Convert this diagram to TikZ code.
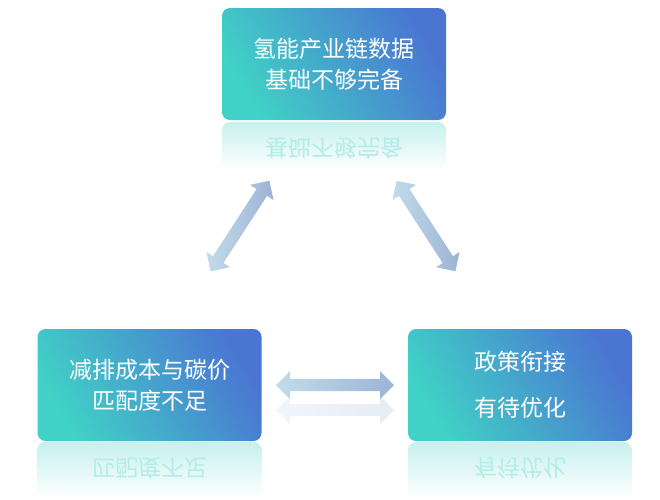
\documentclass[tikz,border=0pt]{standalone}
\usepackage{fontspec}
\setmainfont{Noto Sans CJK SC}
\usetikzlibrary{shapes.arrows,fadings}
\definecolor{tl}{HTML}{40D2C6}
\definecolor{bl}{HTML}{4A76D2}
\definecolor{al}{HTML}{A8CCE0}
\definecolor{ad}{HTML}{9CB4D6}
\tikzset{
 box/.style={rounded corners=8pt,minimum width=224pt,minimum height=112pt,left color=tl,right color=bl,shading angle=120,text=white,font=\fontsize{23pt}{31pt}\selectfont,align=center},
 rtext/.style={text=tl!40,font=\fontsize{23pt}{31pt}\selectfont,align=center,yscale=-1},
 darr/.style={double arrow,minimum height=#1,minimum width=28pt,double arrow head extend=4pt,inner sep=3pt,left color=al!70,right color=ad,draw=none}
}
\begin{document}
\begin{tikzpicture}[x=1pt,y=-1pt]
\useasboundingbox (0,0) rectangle (660,499);
% reflections
\fill[tl!30,path fading=south,rounded corners=8pt] (222,122) rectangle (446,170);
\node[rtext] (rt) at (334,148) {基础不够完备};
\fill[tl!30,path fading=south,rounded corners=8pt] (37,442) rectangle (262,499);
\node[rtext] (rl) at (150,468) {匹配度不足};
\fill[tl!30,path fading=south,rounded corners=8pt] (408,442) rectangle (632,499);
\node[rtext] (rr) at (520,468) {有待优化};
% boxes
\node[box] (top) at (334,64) {氢能产业链数据\\基础不够完备};
\node[box] (left) at (149.5,385) {减排成本与碳价\\匹配度不足};
\node[box,font=\fontsize{23pt}{46pt}\selectfont] (right) at (520,385) {政策衔接\\有待优化};
% arrows
\node[darr=108pt,rotate=57] (a1) at (240,226) {};
\node[darr=108pt,rotate=-57] (a2) at (426,226) {};
\node[darr=118pt] (a3) at (335,385) {};
\node[darr=118pt,opacity=0.25] (a3r) at (335,410) {};
\end{tikzpicture}
\end{document}
